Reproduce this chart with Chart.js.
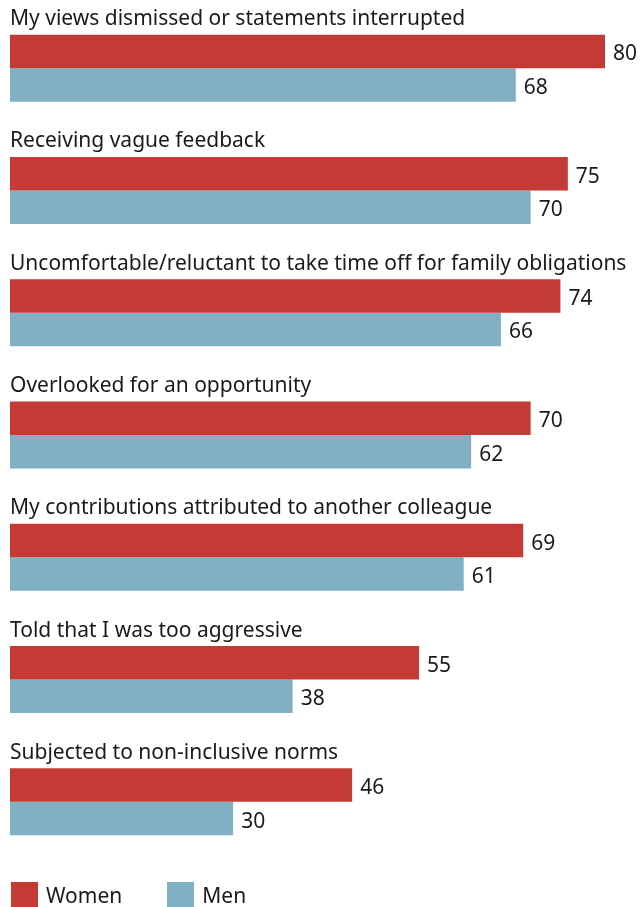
<!DOCTYPE html>
<html>
<head>
<meta charset="utf-8">
<script src="https://cdn.jsdelivr.net/npm/chart.js@4.4.1/dist/chart.umd.min.js"></script>
<style>
  body { margin: 0; background: #fff; font-family: "Noto Sans", sans-serif; }
  #wrap { position: relative; width: 640px; height: 907px; }
  #legend { position: absolute; left: 11px; top: 882px; display: flex; color: #1a1a1a; font-size: 21px; }
  .item { display: flex; align-items: center; margin-right: 45px; height: 25px; }
  .box { width: 27px; height: 25px; margin-right: 8px; }
</style>
</head>
<body>
<div id="wrap">
  <canvas id="c" width="640" height="907"></canvas>
  <div id="legend"></div>
</div>
<script>
const categories = [
  'My views dismissed or statements interrupted',
  'Receiving vague feedback',
  'Uncomfortable/reluctant to take time off for family obligations',
  'Overlooked for an opportunity',
  'My contributions attributed to another colleague',
  'Told that I was too aggressive',
  'Subjected to non-inclusive norms'
];
const women = [80, 75, 74, 70, 69, 55, 46];
const men = [68, 70, 66, 62, 61, 38, 30];

const RED = '#c43b35';
const BLUE = '#82b0c3';
const TEXT = '#1a1a1a';

// category titles above each group + value labels at bar ends
const labelsPlugin = {
  id: 'labels',
  afterDatasetsDraw(chart) {
    const ctx = chart.ctx;
    ctx.save();
    ctx.fillStyle = TEXT;
    ctx.font = '21px "Noto Sans"';
    ctx.textAlign = 'left';

    const first = chart.getDatasetMeta(0);
    first.data.forEach((bar, i) => {
      const p = bar.getProps(['y', 'height'], true);
      ctx.textBaseline = 'alphabetic';
      ctx.fillText(categories[i], 10, p.y - p.height / 2 - 9.5);
    });

    ctx.textBaseline = 'middle';
    chart.data.datasets.forEach((ds, d) => {
      chart.getDatasetMeta(d).data.forEach((bar, i) => {
        const p = bar.getProps(['x', 'y'], true);
        ctx.fillText(ds.data[i], p.x + 8, p.y + 3);
      });
    });
    ctx.restore();
  }
};

const chart = new Chart(document.getElementById('c'), {
  type: 'bar',
  data: {
    labels: categories,
    datasets: [
      { label: 'Women', data: women, backgroundColor: RED, borderWidth: 0 },
      { label: 'Men', data: men, backgroundColor: BLUE, borderWidth: 0 }
    ]
  },
  options: {
    indexAxis: 'y',
    responsive: false,
    animation: false,
    devicePixelRatio: 1,
    categoryPercentage: 0.548,
    barPercentage: 1,
    layout: { padding: { left: 10, right: 0, top: 7, bottom: 44 } },
    scales: {
      x: { display: false, min: 0, max: 84.7 },
      y: { display: false }
    },
    plugins: {
      legend: { display: false },
      tooltip: { enabled: false }
    }
  },
  plugins: [labelsPlugin]
});

// html legend from the datasets
const legend = document.getElementById('legend');
chart.data.datasets.forEach((ds) => {
  const item = document.createElement('div');
  item.className = 'item';
  item.innerHTML = '<div class="box" style="background:' + ds.backgroundColor + '"></div><span>' + ds.label + '</span>';
  legend.appendChild(item);
});
</script>
</body>
</html>
